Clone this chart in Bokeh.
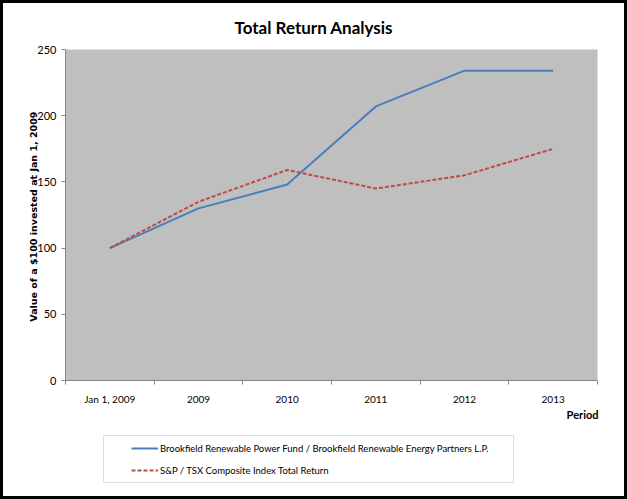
from bokeh.plotting import figure
from bokeh.layouts import column
from bokeh.models import (Range1d, LinearAxis, FixedTicker, Title,
                          Legend, LegendItem, BoxAnnotation)
from bokeh.embed import file_html
from bokeh.resources import INLINE

# ---- data ----
periods = ["Jan 1, 2009", "2009", "2010", "2011", "2012", "2013"]
brookfield = [100, 130, 148, 207, 234, 234]
sptsx = [100, 135, 159, 145, 155, 175]
y_ticks = [0, 50, 100, 150, 200, 250]
series_names = ["Brookfield Renewable Power Fund / Brookfield Renewable Energy Partners L.P.",
                "S&P / TSX Composite Index Total Return"]
series_colors = ["#4a7ebb", "#be4b48"]
series_dash = ["solid", "4 2"]
title_text = "Total Return Analysis"
y_label = "Value of  a $100 invested at Jan 1, 2009"
x_label = "Period"

# category positions on the x scale
xpos = list(range(len(periods)))
bounds = [i - 0.5 for i in range(len(periods) + 1)]
series_values = [brookfield, sptsx]

W = 621
H1, H2 = 425, 68
FONT = "Lato"
AXIS_GRAY = "#868686"

p = figure(width=W, height=H1, x_range=Range1d(-0.5, len(periods) - 0.5), y_range=Range1d(0, 250),
           output_backend="svg", toolbar_location=None,
           x_axis_location=None, y_axis_location=None,
           min_border_left=62, min_border_right=27, min_border_top=45, min_border_bottom=48)
p.background_fill_color = "#bfbfbf"
p.border_fill_color = "white"
p.outline_line_color = None
p.xgrid.visible = False
p.ygrid.visible = False

# title
p.title.text = title_text
p.title.align = "left"
p.title.offset = 169
p.title.standoff = 23
p.title.text_font = FONT
p.title.text_font_style = "bold"
p.title.text_font_size = "17px"
p.title.text_color = "#000000"

# y axis
yax = LinearAxis(ticker=FixedTicker(ticks=y_ticks))
yax.axis_line_color = AXIS_GRAY
yax.major_tick_line_color = AXIS_GRAY
yax.major_tick_out = 4
yax.major_tick_in = 0
yax.minor_tick_line_color = None
yax.major_label_text_font = FONT
yax.major_label_text_font_size = "11px"
yax.major_label_text_color = "#000000"
yax.major_label_standoff = 5
yax.axis_label = y_label
yax.axis_label_text_font = "DejaVu Sans"
yax.axis_label_text_font_style = "bold"
yax.axis_label_text_font_size = "9.5px"
yax.axis_label_text_color = "#000000"
yax.axis_label_standoff = -5
p.add_layout(yax, "left")

# x axis: labels at category centres, tick marks at category boundaries (minor ticks)
xax = LinearAxis(ticker=FixedTicker(ticks=xpos, minor_ticks=bounds),
                 major_label_overrides={i: s for i, s in zip(xpos, periods)})
xax.axis_line_color = AXIS_GRAY
xax.major_tick_line_color = None
xax.major_tick_out = 0
xax.major_tick_in = 0
xax.minor_tick_line_color = AXIS_GRAY
xax.minor_tick_out = 4
xax.minor_tick_in = 0
xax.major_label_text_font = FONT
xax.major_label_text_font_size = "10px"
xax.major_label_text_color = "#000000"
xax.major_label_standoff = 8
p.add_layout(xax, "below")

for vals, col, dash in zip(series_values, series_colors, series_dash):
    p.line(x=xpos, y=vals, line_color=col, line_width=2, line_dash=dash)

# x-axis name, right aligned under the plot
p.add_layout(Title(text=x_label, align="right", text_font=FONT, text_font_style="bold",
                   text_font_size="11px", text_color="#000000", standoff=-3, offset=-1), "below")

# ---- legend strip below the chart (its frame is aligned with the chart's frame) ----
q = figure(width=W, height=H2, x_range=Range1d(100, 101), y_range=Range1d(1000, 1001),
           output_backend="svg", toolbar_location=None,
           x_axis_location=None, y_axis_location=None, min_border=0)
q.background_fill_color = "white"
q.border_fill_color = "white"
q.outline_line_color = None
q.xgrid.visible = False
q.ygrid.visible = False
q.add_layout(BoxAnnotation(left=38, right=448, bottom=14, top=61,
                           left_units="screen", right_units="screen",
                           top_units="screen", bottom_units="screen",
                           fill_color="white", fill_alpha=1.0,
                           line_color="#8c8c8c", line_width=1))
items = []
for name, vals, col, dash in zip(series_names, series_values, series_colors, series_dash):
    # same series, outside this strip's ranges: only the legend sample shows
    r = q.line(x=xpos, y=vals, line_color=col, line_width=2, line_dash=dash)
    items.append(LegendItem(label=name, renderers=[r]))
legend = Legend(items=items, location=(66, 19), margin=0, padding=0, spacing=8,
                glyph_width=27, glyph_height=14, label_height=14, label_standoff=2,
                label_text_font=FONT, label_text_font_size="9.5px", label_text_color="#000000",
                border_line_color=None, background_fill_alpha=0)
q.add_layout(legend, "center")

layout = column(p, q, spacing=0)
layout.styles = {"border": "3px solid black"}

open("out.html", "w").write(file_html(layout, INLINE))
